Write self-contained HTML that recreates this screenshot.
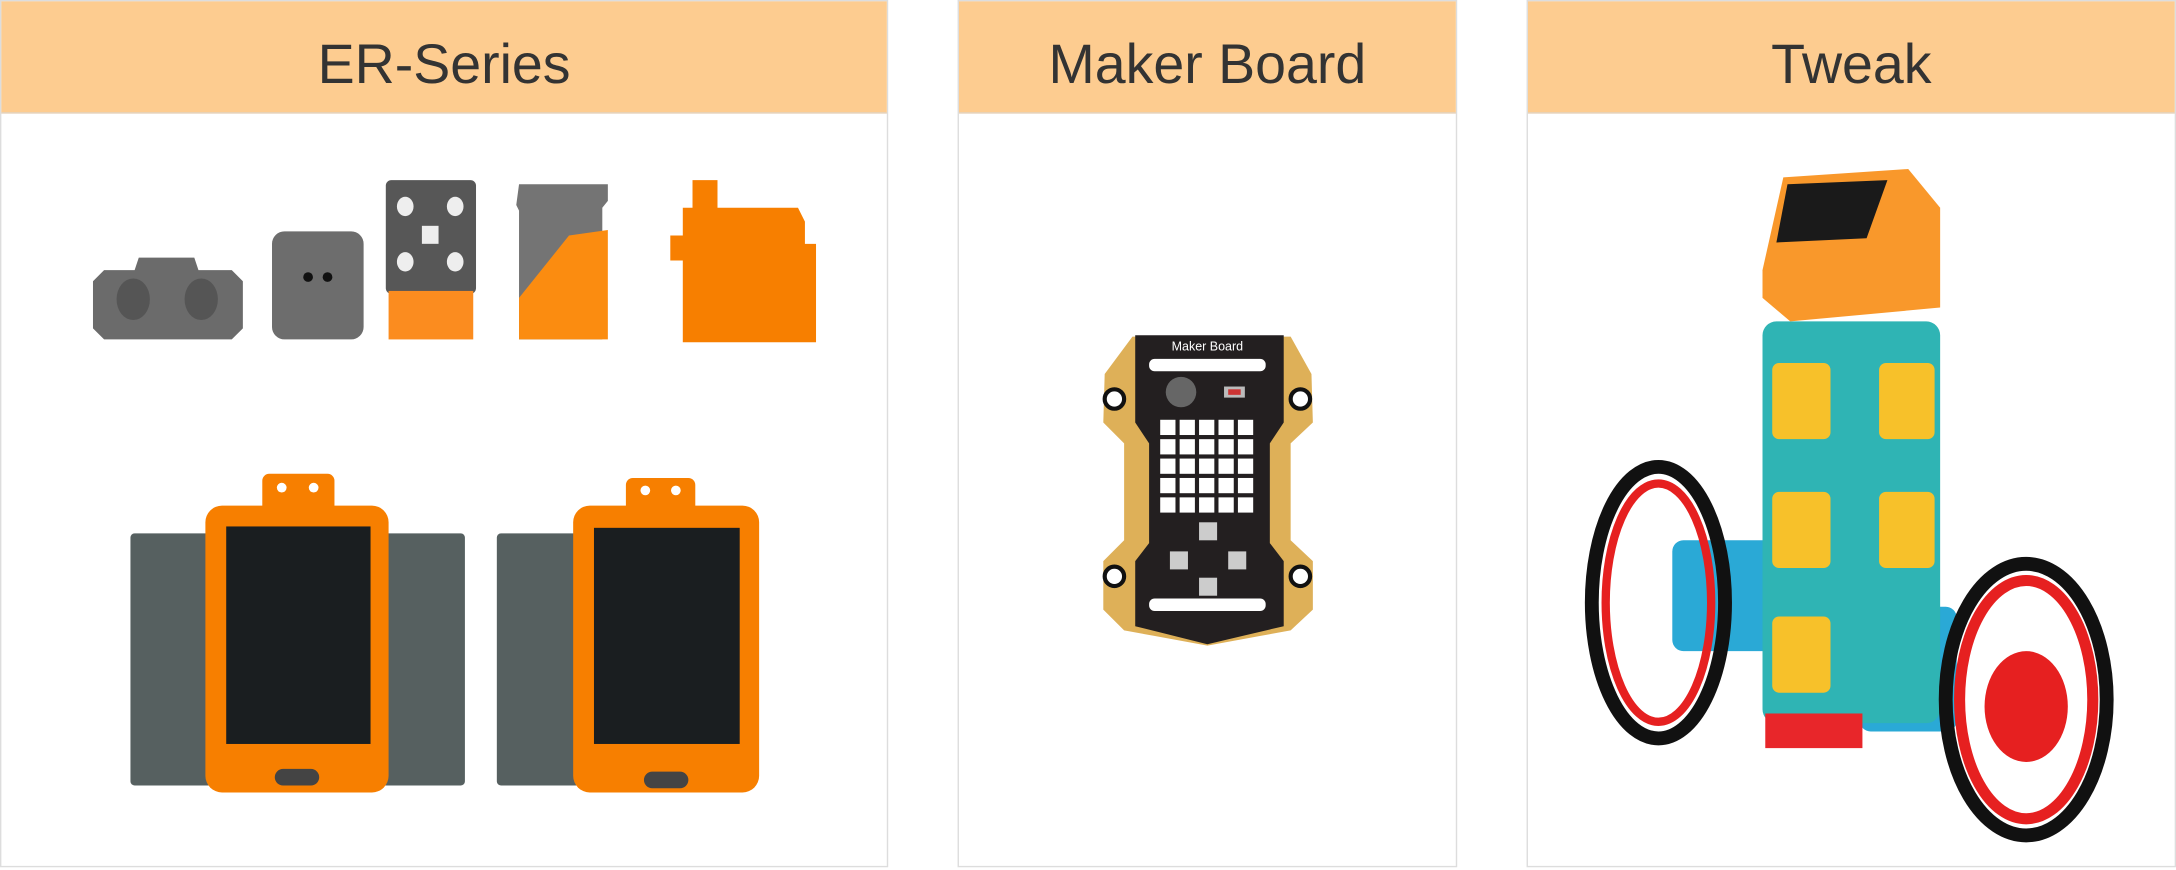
<!DOCTYPE html>
<html><head><meta charset="utf-8"><style>
html,body{margin:0;padding:0;background:#fff;width:2176px;height:870px;overflow:hidden}
#w{position:absolute;left:0;top:0;width:1568px;height:628px;transform:scale(1.3878,1.3854);transform-origin:0 0}
.p{position:absolute;top:0;height:626px;border:1px solid #ddd;box-sizing:border-box;background:#fff}
.h{position:absolute;left:0;right:0;top:0;height:80px;background:#fdcc90;font-family:"Liberation Sans",sans-serif;font-size:40px;color:#333;text-align:center;line-height:92px;border-bottom:1px solid #e3d3c0}
.a{position:absolute}
</style></head><body>
<div id="w">
<div class="p" style="left:0;width:640px">
 <div class="h">ER-Series</div>
</div>
<div class="p" style="left:690px;width:360px">
 <div class="h">Maker Board</div>
</div>
<div class="p" style="left:1100px;width:468px">
 <div class="h">Tweak</div>
</div>
<svg class="a" style="left:0;top:0" width="1568" height="628">
 <g>
  <path d="M67,203 L75,195 L97,195 L100,186 L140,186 L143,195 L167,195 L175,203 L175,237 L167,245 L75,245 L67,237Z" fill="#6b6b6b"/>
  <ellipse cx="96" cy="216" rx="12" ry="15" fill="#555"/><ellipse cx="145" cy="216" rx="12" ry="15" fill="#555"/>
  <rect x="196" y="167" width="66" height="78" rx="9" fill="#6d6d6d"/>
  <circle cx="222" cy="200" r="3.5" fill="#111"/><circle cx="236" cy="200" r="3.5" fill="#111"/>
  <rect x="278" y="130" width="65" height="82" rx="4" fill="#575757"/>
  <rect x="280" y="210" width="61" height="35" fill="#fb8c1f"/>
  <ellipse cx="292" cy="149" rx="6" ry="7" fill="#eee"/><ellipse cx="328" cy="149" rx="6" ry="7" fill="#eee"/>
  <ellipse cx="292" cy="189" rx="6" ry="7" fill="#eee"/><ellipse cx="328" cy="189" rx="6" ry="7" fill="#eee"/>
  <rect x="304" y="163" width="12" height="13" fill="#eee"/>
  <path d="M374,133 L438,133 L438,145 L434,150 L434,245 L374,245 L374,152 L372,148Z" fill="#747474"/>
  <path d="M374,215 L410,170 L438,166 L438,245 L374,245Z" fill="#fb8c10"/>
  <path d="M499,130 L517,130 L517,150 L575,150 L580,160 L580,176 L588,176 L588,247 L492,247 L492,188 L483,188 L483,170 L492,170 L492,150 L499,150Z" fill="#f77f00"/>
 </g>
 <g>
  <rect x="94" y="385" width="241" height="182" rx="3" fill="#566060"/>
  <rect x="189" y="342" width="52" height="28" rx="5" fill="#f77f00"/>
  <circle cx="203" cy="352" r="3.5" fill="#fff"/><circle cx="226" cy="352" r="3.5" fill="#fff"/>
  <rect x="148" y="365" width="132" height="207" rx="12" fill="#f77f00"/>
  <rect x="163" y="380" width="104" height="157" fill="#1a1e20"/>
  <rect x="198" y="555" width="32" height="12" rx="6" fill="#444"/>
  <rect x="358" y="385" width="60" height="182" rx="3" fill="#566060"/>
  <rect x="451" y="345" width="50" height="25" rx="5" fill="#f77f00"/>
  <circle cx="465" cy="354" r="3.5" fill="#fff"/><circle cx="487" cy="354" r="3.5" fill="#fff"/>
  <rect x="413" y="365" width="134" height="207" rx="12" fill="#f77f00"/>
  <rect x="428" y="381" width="105" height="156" fill="#1a1e20"/>
  <rect x="464" y="557" width="32" height="12" rx="6" fill="#444"/>
 </g>
 <g>
  <path d="M816,243 L930,243 L945,270 L946,305 L930,320 L930,390 L946,405 L946,440 L930,455 L870,466 L810,455 L795,440 L795,405 L810,390 L810,320 L795,305 L796,270Z" fill="#deb058"/>
  <path d="M818,242 L925,242 L925,305 L915,320 L915,392 L925,405 L925,452 L870,465 L818,452 L818,405 L828,392 L828,320 L818,305Z" fill="#231f20"/>
  <text x="870" y="253" font-family="Liberation Sans,sans-serif" font-size="9" fill="#fff" text-anchor="middle">Maker Board</text>
  <rect x="828" y="259" width="84" height="9" rx="4" fill="#fff"/>
  <rect x="828" y="432" width="84" height="9" rx="4" fill="#fff"/>
  <circle cx="851" cy="283" r="11" fill="#666"/><rect x="882" y="279" width="15" height="8" fill="#bbb"/><rect x="885" y="281" width="9" height="4" fill="#c33"/>
  <circle cx="803" cy="288" r="7" fill="#fff" stroke="#111" stroke-width="3"/><circle cx="937" cy="288" r="7" fill="#fff" stroke="#111" stroke-width="3"/>
  <circle cx="803" cy="416" r="7" fill="#fff" stroke="#111" stroke-width="3"/><circle cx="937" cy="416" r="7" fill="#fff" stroke="#111" stroke-width="3"/>
  <g fill="#fff">
   <rect x="836" y="303" width="11" height="11"/><rect x="850" y="303" width="11" height="11"/><rect x="864" y="303" width="11" height="11"/><rect x="878" y="303" width="11" height="11"/><rect x="892" y="303" width="11" height="11"/>
   <rect x="836" y="317" width="11" height="11"/><rect x="850" y="317" width="11" height="11"/><rect x="864" y="317" width="11" height="11"/><rect x="878" y="317" width="11" height="11"/><rect x="892" y="317" width="11" height="11"/>
   <rect x="836" y="331" width="11" height="11"/><rect x="850" y="331" width="11" height="11"/><rect x="864" y="331" width="11" height="11"/><rect x="878" y="331" width="11" height="11"/><rect x="892" y="331" width="11" height="11"/>
   <rect x="836" y="345" width="11" height="11"/><rect x="850" y="345" width="11" height="11"/><rect x="864" y="345" width="11" height="11"/><rect x="878" y="345" width="11" height="11"/><rect x="892" y="345" width="11" height="11"/>
   <rect x="836" y="359" width="11" height="11"/><rect x="850" y="359" width="11" height="11"/><rect x="864" y="359" width="11" height="11"/><rect x="878" y="359" width="11" height="11"/><rect x="892" y="359" width="11" height="11"/>
  </g>
  <rect x="864" y="377" width="13" height="13" fill="#ccc"/><rect x="843" y="398" width="13" height="13" fill="#ccc"/>
  <rect x="885" y="398" width="13" height="13" fill="#ccc"/><rect x="864" y="417" width="13" height="13" fill="#ccc"/>
 </g>
 <g>
  <rect x="1205" y="390" width="75" height="80" rx="8" fill="#2aa9d6"/>
  <rect x="1340" y="438" width="70" height="90" rx="8" fill="#2aa9d6"/>
  <rect x="1270" y="232" width="128" height="290" rx="10" fill="#2fb4b4"/>
  <rect x="1272" y="515" width="70" height="25" fill="#e8262a"/>
  <rect x="1277" y="262" width="42" height="55" rx="5" fill="#f7c12a"/><rect x="1354" y="262" width="40" height="55" rx="5" fill="#f7c12a"/>
  <rect x="1277" y="355" width="42" height="55" rx="5" fill="#f7c12a"/><rect x="1354" y="355" width="40" height="55" rx="5" fill="#f7c12a"/>
  <rect x="1277" y="445" width="42" height="55" rx="5" fill="#f7c12a"/>
  <path d="M1285,128 L1375,122 L1398,150 L1398,222 L1290,232 L1270,215 L1270,195Z" fill="#f9982b"/>
  <path d="M1288,133 L1360,130 L1345,172 L1280,175Z" fill="#1a1a1a"/>
  <ellipse cx="1195" cy="435" rx="48" ry="98" fill="none" stroke="#111" stroke-width="10"/>
  <ellipse cx="1195" cy="435" rx="38" ry="86" fill="none" stroke="#e62020" stroke-width="6"/>
  <ellipse cx="1460" cy="505" rx="58" ry="98" fill="none" stroke="#111" stroke-width="10"/>
  <ellipse cx="1460" cy="505" rx="48" ry="86" fill="none" stroke="#e62020" stroke-width="8"/>
  <ellipse cx="1460" cy="510" rx="30" ry="40" fill="#e62020"/>
 </g>
</svg>
</div>
</body></html>
